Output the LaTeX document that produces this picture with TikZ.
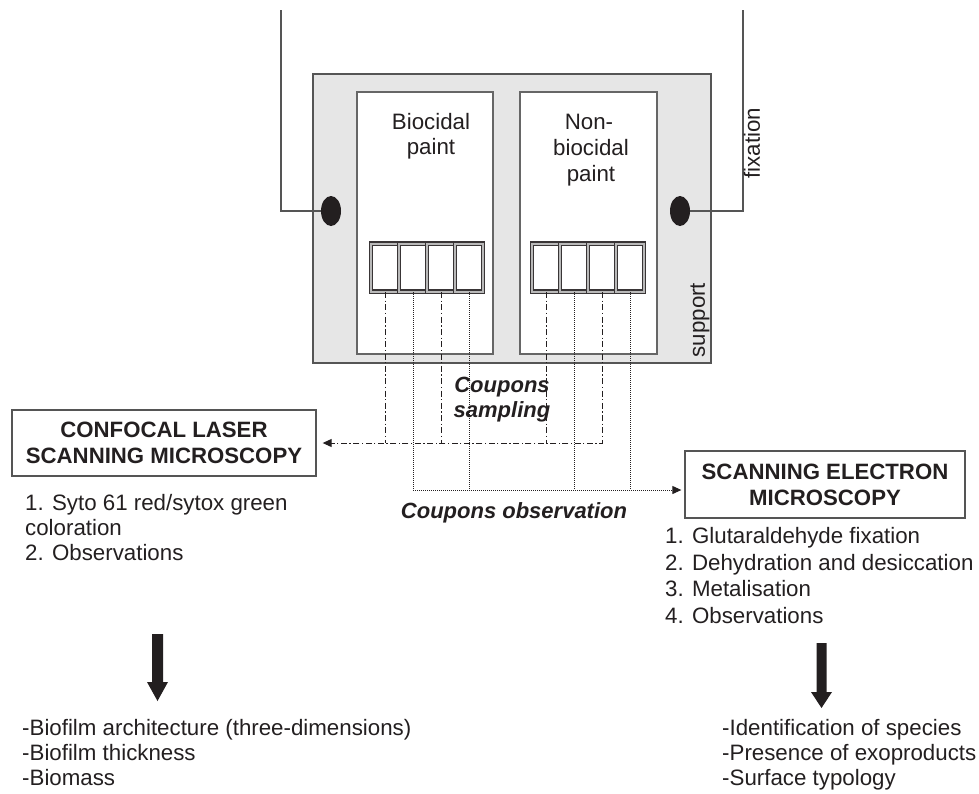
\documentclass[tikz,border=0pt]{standalone}
\usepackage{fontspec}
\setmainfont{Liberation Sans}
\usetikzlibrary{arrows.meta,shapes.geometric}
\definecolor{ink}{HTML}{231F20}
\definecolor{supfill}{HTML}{E6E6E6}
\definecolor{edge}{HTML}{555555}
\begin{document}
\begin{tikzpicture}[x=1pt,y=-1pt,
  every node/.style={text=ink, font=\fontsize{22.3}{26}\selectfont, inner sep=0pt},
  txt/.style={anchor=base west},
  ctxt/.style={anchor=base},
  bitxt/.style={anchor=base, font=\fontsize{22}{26}\selectfont\bfseries\itshape},
  boxed/.style={draw=edge, line width=1.3pt, align=center, font=\fontsize{22.2}{26}\selectfont\bfseries},
  panel/.style={draw=edge!90, line width=1.1pt, fill=white},
  cell/.style={draw=ink!90, line width=1.3pt, double=gray!55, double distance=2pt, minimum width=28pt, minimum height=48pt},
  hole/.style={ellipse, fill=ink, minimum width=20pt, minimum height=30pt},
  sampling/.style={draw=ink, line width=1pt, dash pattern=on 6pt off 2.5pt on 1.3pt off 2.5pt},
  observ/.style={draw=ink, line width=1pt, dash pattern=on 1pt off 1pt},
  tip/.style={-{Triangle[length=9pt,width=8pt]}},
  fixline/.style={draw=edge, line width=1.1pt},
  bigarrow/.style={fill=ink}
]
\useasboundingbox (0,0) rectangle (979,793);

% support and panels
\node[draw=edge, fill=supfill, line width=1.3pt, minimum width=398pt, minimum height=289pt] (support) at (512,218.5) {};
\node[panel, minimum width=136pt, minimum height=262pt] (pL) at (425,223) {};
\node[panel, minimum width=137pt, minimum height=262pt] (pR) at (588.5,223) {};

% fixation holes and wires
\node[hole] (ellL) at (331,211) {};
\node[hole] (ellR) at (680,211) {};
\coordinate (topL) at (281,10);
\coordinate (topR) at (743,10);
\draw[fixline] (topL) |- (ellL);
\draw[fixline] (topR) |- (ellR);
\node[rotate=90] (fixlbl) at (752,143) {fixation};
\node[rotate=90] (suplbl) at (700,320) {support};

% panel labels
\node[ctxt] (bio1) at (431,129) {Biocidal};
\node[ctxt] (bio2) at (431,154) {paint};
\node[ctxt] (nb1) at (589,129) {Non-};
\node[ctxt] (nb2) at (591,155) {biocidal};
\node[ctxt] (nb3) at (591,181) {paint};

% coupons
\foreach \i/\x in {1/385,2/413,3/441,4/469} {\node[cell] (cL\i) at (\x,267.5) {};}
\foreach \i/\x in {1/546,2/574,3/602,4/630} {\node[cell] (cR\i) at (\x,267.5) {};}

% boxes
\node[boxed, minimum width=304pt, minimum height=66pt] (clsm) at (164,443) {CONFOCAL LASER\\SCANNING MICROSCOPY};
\node[boxed, minimum width=280pt, minimum height=67pt] (sem) at (825,484.5) {SCANNING ELECTRON\\MICROSCOPY};

% sampling connectors
\draw[sampling, tip, shorten >=6pt] (cR3.south) |- (clsm.east);
\foreach \c in {cL1,cL3,cR1} {\draw[sampling] (\c.south) -- (\c.south |- clsm.east);}
\node[bitxt] (samp1) at (502,392) {Coupons};
\node[bitxt] (samp2) at (502,417) {sampling};

% observation connectors
\coordinate (obsY) at ([yshift=-5.5pt]sem.west);
\draw[observ, tip, shorten >=3pt] (cL2.south) |- (obsY);
\foreach \c in {cL4,cR2,cR4} {\draw[observ] (\c.south) -- (\c.south |- obsY);}
\node[bitxt] (obs) at (514,518) {Coupons observation};

% lists
\node[txt] (l1) at (25,510) {1. Syto 61 red/sytox green};
\node[txt] (l2) at (25,535) {coloration};
\node[txt] (l3) at (25,560) {2. Observations};
\node[txt] (r1) at (665,543) {1. Glutaraldehyde fixation};
\node[txt] (r2) at (665,570) {2. Dehydration and desiccation};
\node[txt] (r3) at (665,596.5) {3. Metalisation};
\node[txt] (r4) at (665,623) {4. Observations};

% big arrows
\coordinate (a1s) at (157.5,634); \coordinate (a1e) at (157.5,701);
\coordinate (a2s) at (821.5,643); \coordinate (a2e) at (821.5,708);
\fill[bigarrow] (a1s) ++(-5.5,0) -- ++(11,0) -- ++(0,48) -- ++(5,0) -- (a1e) -- ++(-10.5,-19) -- ++(5,0) -- cycle;
\fill[bigarrow] (a2s) ++(-5,0) -- ++(10,0) -- ++(0,49) -- ++(5.5,0) -- (a2e) -- ++(-10.5,-16) -- ++(5.5,0) -- cycle;

% results
\node[txt] (b1) at (22,735) {-Biofilm architecture (three-dimensions)};
\node[txt] (b2) at (22,760) {-Biofilm thickness};
\node[txt] (b3) at (22,785) {-Biomass};
\node[txt] (s1) at (722,735) {-Identification of species};
\node[txt] (s2) at (722,760) {-Presence of exoproducts};
\node[txt] (s3) at (722,785) {-Surface typology};
\end{tikzpicture}
\end{document}
